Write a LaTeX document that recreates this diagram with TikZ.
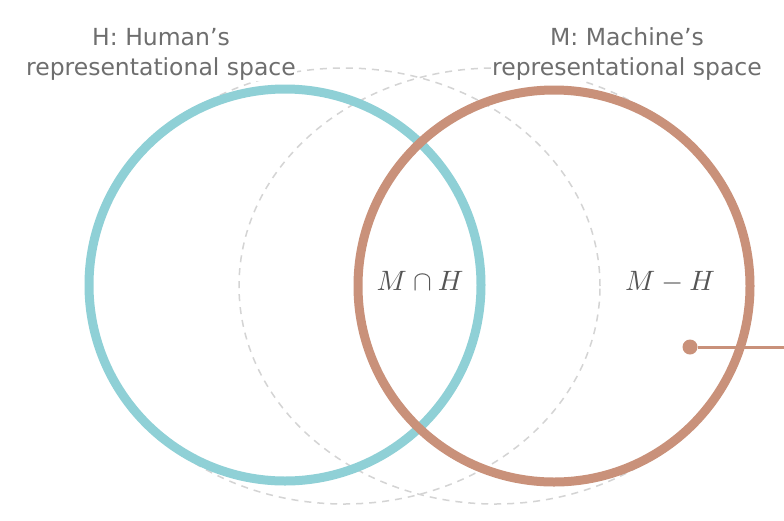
\documentclass[tikz,border=0pt]{standalone}
\usepackage{graphicx}
\usepackage{fontspec}
\setmainfont{DejaVu Sans}
\usetikzlibrary{shapes.geometric}
\definecolor{tealc}{HTML}{8FD0D6}
\definecolor{brownc}{HTML}{C9917A}
\definecolor{dashgray}{HTML}{D4D4D4}
\definecolor{labelgray}{HTML}{6E6E6E}
\definecolor{mathgray}{HTML}{555555}
\tikzset{
  space/.style={ellipse, draw=dashgray, line width=1.5pt, dash pattern=on 7pt off 6pt,
    minimum width=512pt, minimum height=436pt, inner sep=0pt},
  ring/.style={circle, line width=9pt, minimum size=392pt, inner sep=0pt},
  lbl/.style={font=\fontsize{23.5}{30}\selectfont, text=labelgray, fill=white, inner sep=1pt, anchor=base},
  mathlbl/.style={text=mathgray, anchor=base},
  dotnode/.style={circle, fill=brownc, minimum size=15pt, inner sep=0pt},
  link/.style={draw=brownc, line width=3pt}
}
\begin{document}
\begin{tikzpicture}[x=1pt,y=-1pt]
\useasboundingbox[fill=white] (0,0) rectangle (784,520);
% dashed spaces
\node[space] (Hs) at (344,286) {};
\node[space] (Ms) at (495,286) {};
% labels
\node[lbl] (H1) at (161,45) {H: Human’s};
\node[lbl] (H2) at (161,75) {representational space};
\node[lbl] (M1) at (627,45) {M: Machine’s};
\node[lbl] (M2) at (627,75) {representational space};
% rings
\node[ring, draw=tealc] (H) at (285,285) {};
\node[ring, draw=brownc] (M) at (554,286) {};
% math labels
\node[mathlbl] (MandH) at (420,290) {\scalebox{2.8}{$M\cap H$}};
\node[mathlbl] (MminusH) at (670,290) {\scalebox{2.8}{$M-H$}};
% pointer
\node[dotnode] (dot) at (690,347) {};
\coordinate (out) at (790,347);
\draw[link] (dot) -- (out);
\end{tikzpicture}
\end{document}
